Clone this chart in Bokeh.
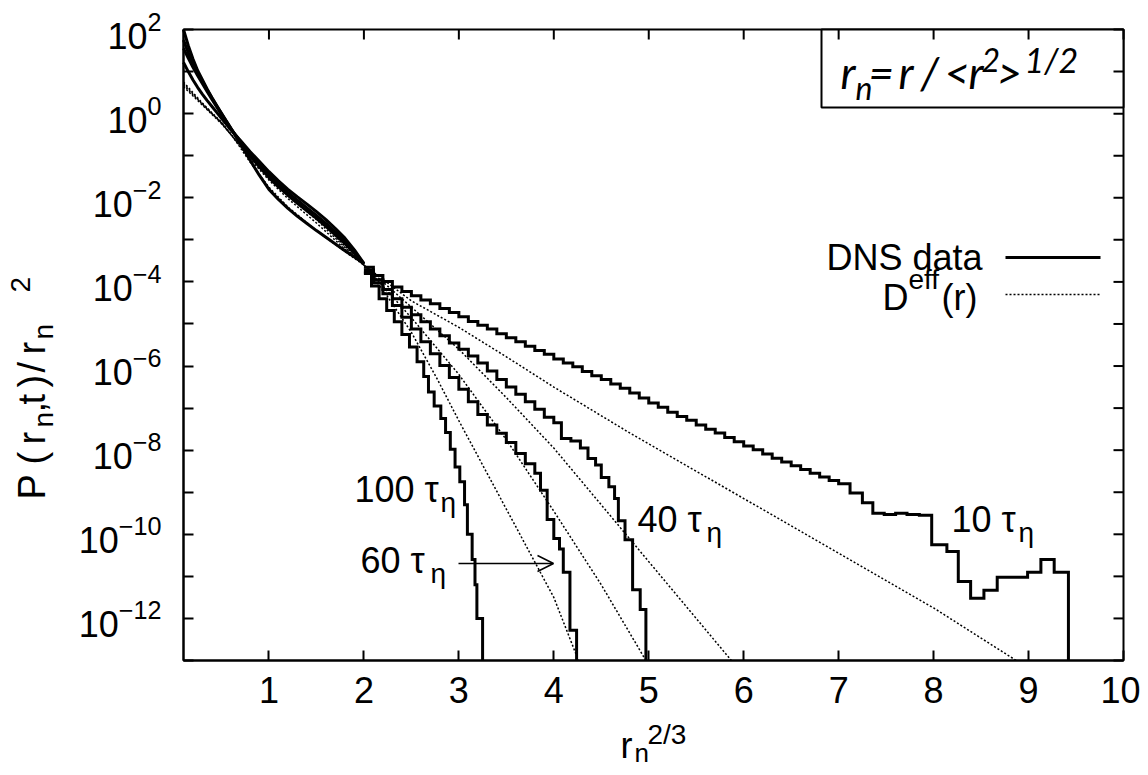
import numpy as np
from bokeh.plotting import figure
from bokeh.models import (Range1d, FixedTicker, Label, BoxAnnotation, Arrow, OpenHead)
from bokeh.embed import file_html
from bokeh.resources import INLINE

# ---------------- data ----------------
x_ticks = [1, 2, 3, 4, 5, 6, 7, 8, 9, 10]
y_major = [1e2, 1e0, 1e-2, 1e-4, 1e-6, 1e-8, 1e-10, 1e-12]
y_minor = [1e1, 1e-1, 1e-3, 1e-5, 1e-7, 1e-9, 1e-11, 1e-13]
x_lim = (0.1, 10.0)
y_lim = (1e-13, 1e2)

# small-separation part of the DNS curves (r_n^{2/3}, log10 P/r_n^2)
core_x = [0.10, 0.15, 0.20, 0.25, 0.30, 0.35, 0.40, 0.45, 0.50, 0.55, 0.60,
          0.70, 0.80, 0.90, 1.00, 1.10, 1.20, 1.30, 1.40, 1.50, 1.60, 1.70,
          1.80, 1.90, 2.00]
core10_lg = [2.00, 1.62, 1.30, 1.02, 0.80, 0.58, 0.38, 0.19, 0.01, -0.17, -0.35,
             -0.72, -1.10, -1.47, -1.80, -2.04, -2.25, -2.44, -2.61, -2.78, -2.94,
             -3.10, -3.26, -3.41, -3.56]
core40_lg = [1.75, 1.45, 1.20, 0.97, 0.76, 0.56, 0.37, 0.18, 0.00, -0.18, -0.36,
             -0.69, -1.00, -1.27, -1.52, -1.74, -1.94, -2.13, -2.31, -2.49, -2.68,
             -2.88, -3.09, -3.32, -3.58]
core60_lg = [1.55, 1.32, 1.10, 0.90, 0.71, 0.52, 0.34, 0.16, -0.02, -0.19, -0.36,
             -0.66, -0.95, -1.21, -1.45, -1.67, -1.87, -2.06, -2.24, -2.42, -2.61,
             -2.81, -3.03, -3.28, -3.57]
core100_lg = [1.22, 1.00, 0.80, 0.62, 0.46, 0.31, 0.17, 0.03, -0.11, -0.25, -0.39,
              -0.64, -0.90, -1.14, -1.38, -1.60, -1.80, -1.98, -2.15, -2.33, -2.52,
              -2.73, -2.96, -3.24, -3.56]

# tails of the DNS histograms: left bin edges and log10 value of each bin
tail10_x = [2.0, 2.1, 2.2, 2.3, 2.4, 2.5, 2.6, 2.7, 2.8, 2.9,
            3.0, 3.1, 3.2, 3.3, 3.4, 3.5, 3.6, 3.7, 3.8, 3.9,
            4.0, 4.1, 4.2, 4.3, 4.4, 4.5, 4.6, 4.7, 4.8, 4.9,
            5.0, 5.1, 5.2, 5.3, 5.4, 5.5, 5.6, 5.7, 5.8, 5.9,
            6.0, 6.1, 6.2, 6.3, 6.4, 6.5, 6.6, 6.7, 6.8, 6.9,
            7.0, 7.12, 7.25, 7.36, 7.48, 7.60, 7.72, 7.85, 7.98,
            8.14, 8.26, 8.39, 8.53, 8.67, 8.99, 9.13, 9.27]
tail10_lg = [-3.65, -3.85, -3.99, -4.12, -4.23, -4.33, -4.43, -4.52, -4.63, -4.73,
             -4.83, -4.94, -5.03, -5.12, -5.23, -5.33, -5.42, -5.53, -5.63, -5.72,
             -5.83, -5.93, -6.02, -6.13, -6.23, -6.32, -6.43, -6.53, -6.64, -6.76,
             -6.88, -6.98, -7.10, -7.20, -7.29, -7.40, -7.50, -7.59, -7.70, -7.80,
             -7.90, -7.99, -8.09, -8.19, -8.28, -8.37, -8.46, -8.55, -8.64, -8.72,
             -8.80, -9.02, -9.25, -9.50, -9.53, -9.50, -9.53, -9.55, -10.25,
             -10.41, -11.12, -11.52, -11.33, -11.02, -10.90, -10.60, -10.90]
tail10_end = 9.42

tail40_x = [2.0, 2.1, 2.2, 2.3, 2.4, 2.5, 2.6, 2.7, 2.8, 2.9,
            3.0, 3.1, 3.2, 3.3, 3.4, 3.5, 3.6, 3.7, 3.8, 3.9,
            4.0, 4.08, 4.18, 4.28, 4.36, 4.44, 4.50, 4.58, 4.64,
            4.68, 4.75, 4.83, 4.91]
tail40_lg = [-3.72, -3.95, -4.18, -4.40, -4.60, -4.78, -4.95, -5.12, -5.28, -5.45,
             -5.60, -5.76, -5.93, -6.12, -6.32, -6.50, -6.67, -6.85, -7.03, -7.22,
             -7.35, -7.72, -7.78, -7.95, -8.20, -8.35, -8.65, -8.87, -9.15,
             -9.68, -10.13, -11.32, -11.79]
tail40_end = 4.97

tail60_x = [2.0, 2.1, 2.2, 2.3, 2.4, 2.5, 2.6, 2.7, 2.8, 2.9,
            3.0, 3.1, 3.2, 3.3, 3.4, 3.5, 3.6, 3.7, 3.8,
            3.86, 3.93, 4.00, 4.06, 4.10, 4.17]
tail60_lg = [-3.77, -4.02, -4.28, -4.56, -4.84, -5.12, -5.42, -5.71, -5.99, -6.27,
             -6.55, -6.85, -7.15, -7.40, -7.60, -7.82, -8.08, -8.32, -8.55,
             -8.95, -9.65, -10.10, -10.35, -10.90, -12.28]
tail60_end = 4.24

tail100_x = [2.0, 2.08, 2.16, 2.24, 2.32, 2.40, 2.48, 2.56, 2.63,
             2.68, 2.74, 2.81, 2.86, 2.91, 2.96, 3.01, 3.06, 3.09,
             3.14, 3.17, 3.19]
tail100_lg = [-3.80, -4.10, -4.40, -4.68, -4.95, -5.25, -5.55, -5.90, -6.25,
              -6.62, -6.95, -7.25, -7.58, -7.98, -8.40, -8.75, -9.30, -10.00,
              -10.60, -11.20, -12.00]
tail100_end = 3.25

# D_eff(r) model curves: (r_n^{2/3}, log10 value)
deff10_x = [0.1, 0.2, 0.3, 0.4, 0.5, 0.6, 0.8, 1.0, 1.2, 1.5, 1.8, 2.0, 2.5,
            3.0, 3.5, 4.0, 4.77, 5.5, 6.0, 7.0, 8.0, 8.87]
deff10_lg = [0.75, 0.50, 0.25, 0.02, -0.20, -0.48, -1.15, -1.75, -2.22, -2.78,
             -3.28, -3.60, -4.45, -5.08, -5.78, -6.50, -7.55, -8.50, -9.15,
             -10.45, -11.75, -13.0]
deff40_x = [0.1, 0.2, 0.3, 0.4, 0.5, 0.6, 0.8, 1.0, 1.2, 1.5, 1.8, 2.0, 2.5,
            3.0, 3.5, 4.0, 4.5, 5.0, 5.5, 5.87]
deff40_lg = [0.72, 0.47, 0.23, 0.0, -0.22, -0.50, -1.08, -1.58, -2.02, -2.60,
             -3.22, -3.60, -4.60, -5.60, -6.75, -7.95, -9.30, -10.65, -12.0, -13.0]
deff60_x = [0.1, 0.2, 0.3, 0.4, 0.5, 0.6, 0.8, 1.0, 1.2, 1.5, 1.8, 2.0, 2.5,
            3.0, 3.5, 4.0, 4.5, 4.97]
deff60_lg = [0.68, 0.45, 0.22, 0.0, -0.22, -0.50, -1.03, -1.50, -1.95, -2.52,
             -3.18, -3.60, -4.85, -6.20, -7.75, -9.45, -11.2, -13.0]
deff100_x = [0.1, 0.2, 0.3, 0.4, 0.5, 0.6, 0.8, 1.0, 1.2, 1.5, 1.8, 2.0, 2.25,
             2.5, 2.77, 3.0, 3.5, 4.0, 4.26]
deff100_lg = [0.64, 0.42, 0.20, -0.02, -0.24, -0.50, -0.98, -1.43, -1.87, -2.45,
              -3.15, -3.60, -4.35, -5.20, -6.30, -7.30, -9.40, -11.5, -13.0]

# ---------------- geometry (picture pixels) ----------------
FONT = "Liberation Sans"
W, H = 1140, 767
F_L, F_R, F_T, F_B = 183, 1123, 29, 660   # data box in picture pixels


def X(px):
    """picture x pixel -> x data value"""
    return float(x_lim[0] + (px - F_L) * (x_lim[1] - x_lim[0]) / (F_R - F_L))


def Y(py):
    """picture y pixel -> y data value (log axis)"""
    l0, l1 = np.log10(y_lim[1]), np.log10(y_lim[0])
    return float(10 ** (l0 + (py - F_T) * (l1 - l0) / (F_B - F_T)))


# the frame covers the whole canvas; the axes are pinned to the data box edges
p = figure(width=W, height=H, x_range=Range1d(X(0), X(W)), y_range=Range1d(Y(H), Y(0)),
           y_axis_type="log", output_backend="svg", toolbar_location=None,
           min_border=0, min_border_left=0, min_border_right=0, min_border_top=0,
           min_border_bottom=0, background_fill_color="white", border_fill_color="white")
p.outline_line_color = None
p.xgrid.visible = False
p.ygrid.visible = False


def style_axis(ax, standoff):
    ax.axis_line_color = "black"
    ax.axis_line_width = 2
    ax.major_tick_line_color = "black"
    ax.major_tick_line_width = 2
    ax.major_tick_in = 10
    ax.major_tick_out = 0
    ax.minor_tick_line_color = "black"
    ax.minor_tick_line_width = 2
    ax.minor_tick_in = 10
    ax.minor_tick_out = 0
    ax.major_label_text_font = FONT
    ax.major_label_text_color = "black"
    ax.major_label_text_font_size = "36px"
    ax.major_label_standoff = standoff


xa = p.xaxis[0]
xa.ticker = FixedTicker(ticks=x_ticks, minor_ticks=[])
xa.fixed_location = y_lim[0]
xa.bounds = x_lim
style_axis(xa, 16)
ya = p.yaxis[0]
ya.ticker = FixedTicker(ticks=y_major, minor_ticks=y_minor)
ya.fixed_location = x_lim[0]
ya.bounds = y_lim
style_axis(ya, 22)

# plot box outline
p.add_layout(BoxAnnotation(left=x_lim[0], right=x_lim[1], bottom=y_lim[0], top=y_lim[1],
                           fill_alpha=0.0, line_color="black", line_alpha=1.0,
                           line_width=2, level="underlay"))

# mirrored inward ticks on the top and right edges of the box
y_all = y_major + y_minor
p.segment(x0=x_ticks, y0=[y_lim[1]] * len(x_ticks), x1=x_ticks,
          y1=[Y(F_T + 10)] * len(x_ticks), line_color="black", line_width=2)
p.segment(x0=[x_lim[1]] * len(y_all), y0=y_all, x1=[X(F_R - 10)] * len(y_all), y1=y_all,
          line_color="black", line_width=2)

# model curves (dotted)
for xs, lg in [(deff10_x, deff10_lg), (deff40_x, deff40_lg),
               (deff60_x, deff60_lg), (deff100_x, deff100_lg)]:
    p.line(xs, 10.0 ** np.array(lg), line_color="black", line_width=1.5,
           line_dash="2 2")

# DNS curves: smooth core + histogram tail (thick), dropping to the bottom axis
for clg, tx, tlg, end in [(core10_lg, tail10_x, tail10_lg, tail10_end),
                          (core40_lg, tail40_x, tail40_lg, tail40_end),
                          (core60_lg, tail60_x, tail60_lg, tail60_end),
                          (core100_lg, tail100_x, tail100_lg, tail100_end)]:
    p.line(core_x, 10.0 ** np.array(clg), line_color="black", line_width=3)
    xx = list(tx) + [end]
    yy = list(10.0 ** np.array(tlg)) + [y_lim[0]]
    p.step(xx, yy, mode="after", line_color="black", line_width=3, line_join="miter")

MID = 0.36  # distance baseline -> middle of the text box, in em


def txt(t, px, py, size=36, align="left", font=FONT, style="normal", angle=0.0):
    """text placed by the picture position of its baseline start"""
    if angle:
        x, y = X(px - MID * size), Y(py)
    else:
        x, y = X(px), Y(py - MID * size)
    p.add_layout(Label(x=x, y=y, text=t, angle=angle, text_align=align,
                       text_baseline="middle", text_font=font, text_font_style=style,
                       text_font_size=f"{size}px", text_color="black"))


# curve labels
for main, px, py, sx in [("100 τ", 354, 502, 440), ("60 τ", 360, 573, 430),
                         ("40 τ", 637, 532, 706), ("10 τ", 951, 532, 1018)]:
    txt(main, px, py, 36)
    txt("η", sx, py + 10, 28)

# arrow to the 60 tau curve
p.add_layout(Arrow(end=OpenHead(size=16, line_width=1.5, line_color="black"),
                   x_start=X(458), y_start=Y(563), x_end=X(553), y_end=Y(563),
                   line_width=1.5, line_color="black"))

# legend
txt("DNS data", 982, 270, 36, align="right")
txt("D", 882, 310, 36)
txt("eff", 908, 289, 28)
txt("(r)", 941, 310, 36)
p.add_layout(Arrow(end=None, x_start=X(1005), y_start=Y(257), x_end=X(1100), y_end=Y(257),
                   line_width=3, line_color="black"))
p.add_layout(Arrow(end=None, x_start=X(1005), y_start=Y(294), x_end=X(1100), y_end=Y(294),
                   line_width=1.5, line_color="black", line_dash="2 2"))

# definition box r_n = r / <r^2>^{1/2}
p.add_layout(BoxAnnotation(left=X(821), right=x_lim[1], top=y_lim[1], bottom=Y(107),
                           fill_color="white", fill_alpha=1.0, line_color="black",
                           line_alpha=1.0, line_width=2, level="underlay"))
BF = "Lato"
for ch, px, py, sz in [("r", 840, 87, 44), ("n", 855, 99, 32), ("=", 868, 87, 44),
                       ("r", 898, 87, 44), ("/", 920, 87, 44), ("<", 944, 87, 44),
                       ("r", 968, 87, 44), ("2", 981, 71, 32), (">", 996, 87, 44),
                       ("1/2", 1024, 71, 34)]:
    txt(ch, px, py, sz, font=BF, style="italic")

# x axis title r_n^{2/3}
txt("r", 620, 758, 36)
txt("n", 634, 762, 26)
txt("2/3", 647, 744, 28)

# y axis title P(r_n,t)/r_n^2, rotated: (char, start y, baseline x, size)
ang = float(np.pi / 2)
for ch, py, bx, sz in [("P", 499, 45, 38), ("(", 464, 45, 38), ("r", 444, 45, 38),
                       ("n", 427, 53, 28), (",", 412, 45, 38), ("t", 404, 45, 38),
                       (")", 387, 45, 38), ("/", 372, 45, 38), ("r", 354, 45, 38),
                       ("n", 339, 53, 28), ("2", 292, 30, 28)]:
    txt(ch, bx, py, sz, angle=ang)

open("out.html", "w").write(file_html(p, INLINE))
